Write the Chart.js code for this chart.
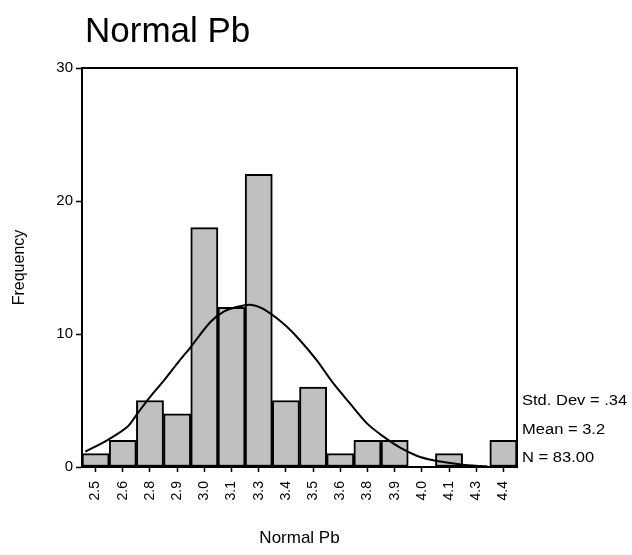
<!DOCTYPE html>
<html>
<head>
<meta charset="utf-8">
<script src="https://cdn.jsdelivr.net/npm/chart.js@4/dist/chart.umd.min.js"></script>
<style>
  body { margin: 0; background: #fff; }
  #wrap { width: 632px; height: 555px; }
</style>
</head>
<body>
<div id="wrap"><canvas id="myChart" width="632" height="555"></canvas></div>
<script>
// bin labels (midpoints, rounded as printed)
const binLabels = ['2.5', '2.6', '2.8', '2.9', '3.0', '3.1', '3.3', '3.4', '3.5', '3.6', '3.8', '3.9', '4.0', '4.1', '4.3', '4.4'];
const frequencies = [1, 2, 5, 4, 18, 12, 22, 5, 6, 1, 2, 2, 0, 1, 0, 2];

// normal curve (x in Pb units, y in frequency)
const curveX = [2.452, 2.553, 2.647, 2.694, 2.755, 2.818, 2.881, 2.942, 3.035, 3.099, 3.161, 3.222, 3.279, 3.373, 3.451, 3.529, 3.607, 3.684, 3.763, 3.840, 3.919, 3.996, 4.073, 4.152, 4.223, 4.292, 4.325];
const curveY = [1.15, 2.0, 3.0, 4.0, 5.3, 6.5, 7.8, 9.0, 10.9, 11.7, 12.05, 12.2, 11.9, 10.8, 9.55, 8.05, 6.3, 4.8, 3.3, 2.3, 1.45, 0.85, 0.5, 0.3, 0.15, 0.08, 0.05];

const yTicks = [0, 10, 20, 30];
const statLines = ['Std. Dev = .34', 'Mean = 3.2', 'N = 83.00'];
const chartTitle = 'Normal Pb';

// bin range: 16 equal bins centred on 2.5 ... 4.4
const binWidth = (4.4 - 2.5) / 15;

const curveData = curveX.map(function(x, i) {
  return { x: x, y: curveY[i] };
});

Chart.defaults.font.family = '"Liberation Sans", Arial, sans-serif';
Chart.defaults.color = '#000';

const framePlugin = {
  id: 'frame',
  afterDraw: function(chart) {
    const ctx = chart.ctx;
    const a = chart.chartArea;
    ctx.save();
    ctx.strokeStyle = '#000';
    ctx.lineWidth = 2;
    ctx.beginPath();
    ctx.moveTo(a.left, a.top);
    ctx.lineTo(a.right, a.top);
    ctx.lineTo(a.right, a.bottom);
    ctx.stroke();

    // title
    ctx.fillStyle = '#000';
    ctx.font = '35px "Liberation Sans", Arial, sans-serif';
    ctx.textBaseline = 'alphabetic';
    ctx.textAlign = 'left';
    ctx.fillText(chartTitle, 85, 42);

    // stats text (SPSS output is a bit stretched sideways)
    ctx.font = '14px "Liberation Sans", Arial, sans-serif';
    statLines.forEach(function(t, i) {
      ctx.save();
      ctx.translate(a.right + 5, 405 + i * 28.5);
      ctx.scale(1.18, 1);
      ctx.fillText(t, 0, 0);
      ctx.restore();
    });
    ctx.restore();
  }
};

const ctx = document.getElementById('myChart');
new Chart(ctx, {
  type: 'bar',
  data: {
    labels: binLabels,
    datasets: [
      {
        type: 'line',
        data: curveData,
        xAxisID: 'xc',
        borderColor: '#000',
        borderWidth: 2,
        pointRadius: 0,
        tension: 0.3,
        fill: false,
        order: 0
      },
      {
        data: frequencies,
        backgroundColor: '#c0c0c0',
        borderColor: '#000',
        borderWidth: 2,
        borderSkipped: false,
        grouped: false,
        categoryPercentage: 1,
        barPercentage: 1,
        order: 1
      }
    ]
  },
  options: {
    responsive: false,
    animation: false,
    layout: { padding: { top: 68, right: 115, left: 0, bottom: 0 } },
    plugins: {
      legend: { display: false },
      tooltip: { enabled: false }
    },
    scales: {
      x: {
        offset: true,
        grid: { drawOnChartArea: false, offset: false, tickLength: 5, color: '#000', tickWidth: 1.5 },
        border: { color: '#000', width: 2 },
        ticks: { font: { size: 14 }, minRotation: 90, maxRotation: 90, padding: 9, autoSkip: false },
        title: { display: true, text: chartTitle, font: { size: 17 }, padding: { top: 0, bottom: 6 } },
        afterFit: function(s) { s.height = 88; }
      },
      xc: {
        type: 'linear',
        display: false,
        offset: false,
        min: 2.5 - binWidth / 2,
        max: 4.4 + binWidth / 2
      },
      y: {
        min: 0,
        max: 30,
        afterBuildTicks: function(s) { s.ticks = yTicks.map(function(v) { return { value: v }; }); },
        grid: { drawOnChartArea: false, tickLength: 6, color: '#000', tickWidth: 1.5 },
        border: { color: '#000', width: 2 },
        ticks: { font: { size: 15 }, padding: 3 },
        title: { display: true, text: 'Frequency', font: { size: 16 }, padding: { top: 10, bottom: 0 } },
        afterFit: function(s) { s.width = 82; }
      }
    }
  },
  plugins: [framePlugin]
});
</script>
</body>
</html>
